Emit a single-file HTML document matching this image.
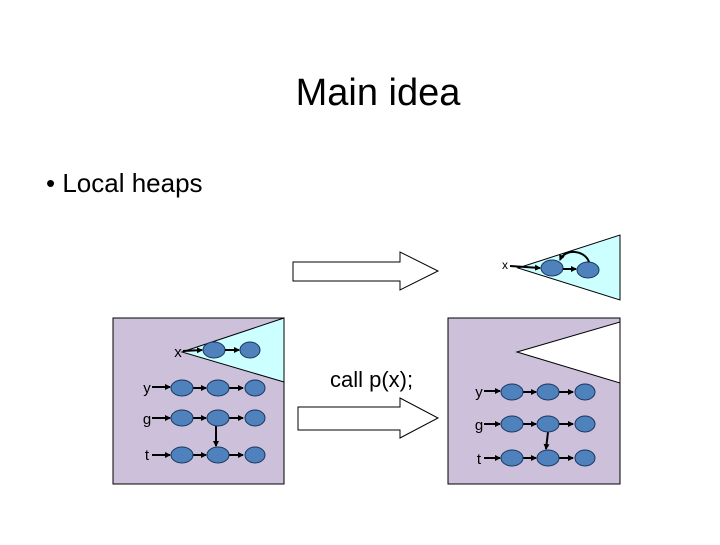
<!DOCTYPE html>
<html><head><style>
body{margin:0;width:720px;height:540px;background:#fff;overflow:hidden;font-family:"Liberation Sans",sans-serif;}
</style></head><body>
<svg width="720" height="540" xmlns="http://www.w3.org/2000/svg" font-family="Liberation Sans, sans-serif">
<defs>
<marker id="a" markerWidth="6" markerHeight="6" refX="5" refY="3" orient="auto" markerUnits="userSpaceOnUse"><path d="M0,0 L6,3 L0,6 z" fill="#000"/></marker>
</defs>
<text x="378" y="105" font-size="38" text-anchor="middle" fill="#000">Main idea</text>
<text x="46" y="192" font-size="26" fill="#000">• Local heaps</text>

<!-- top hollow arrow -->
<path d="M293,262 L400,262 L400,252 L438,271 L400,290 L400,281 L293,281 Z" fill="#fff" stroke="#000" stroke-width="1"/>
<!-- top right triangle -->
<path d="M518,268 L620,235 L620,300 Z" fill="#ccffff" stroke="#000" stroke-width="1"/>
<text x="505" y="269" font-size="12" text-anchor="middle">x</text>
<line x1="510" y1="266" x2="540" y2="268" stroke="#000" stroke-width="2" marker-end="url(#a)"/>
<ellipse cx="552" cy="268" rx="11" ry="8" fill="#4f81bd" stroke="#17375e"/>
<line x1="563" y1="269" x2="576" y2="269" stroke="#000" stroke-width="2" marker-end="url(#a)"/>
<ellipse cx="588" cy="270" rx="11" ry="8" fill="#4f81bd" stroke="#17375e"/>
<path d="M589,262 C585,250 565,248 560,260" fill="none" stroke="#000" stroke-width="2" marker-end="url(#a)"/>

<!-- left box -->
<rect x="113" y="318" width="171" height="166" fill="#ccc0da" stroke="#000"/>
<path d="M182,352 L284,318 L284,382 Z" fill="#ccffff" stroke="#000" stroke-width="1"/>
<g font-size="15">
<text x="178" y="357" text-anchor="middle">x</text>
<line x1="183" y1="351" x2="202" y2="350" stroke="#000" stroke-width="2" marker-end="url(#a)"/>
<ellipse cx="214" cy="350" rx="11" ry="8" fill="#4f81bd" stroke="#17375e"/>
<line x1="225" y1="350" x2="239" y2="350" stroke="#000" stroke-width="2" marker-end="url(#a)"/>
<ellipse cx="250" cy="350" rx="10" ry="8" fill="#4f81bd" stroke="#17375e"/>
</g>
<g id="rows" font-size="15">
<text x="147" y="393" text-anchor="middle">y</text>
<text x="147" y="424" text-anchor="middle">g</text>
<text x="147" y="460" text-anchor="middle">t</text>
</g>
<g stroke="#000" stroke-width="2">
<line x1="152" y1="387" x2="170" y2="387" marker-end="url(#a)"/>
<line x1="193" y1="388" x2="206" y2="388" marker-end="url(#a)"/>
<line x1="229" y1="388" x2="243" y2="388" marker-end="url(#a)"/>
<line x1="152" y1="418" x2="170" y2="418" marker-end="url(#a)"/>
<line x1="193" y1="418" x2="206" y2="418" marker-end="url(#a)"/>
<line x1="229" y1="418" x2="243" y2="418" marker-end="url(#a)"/>
<line x1="152" y1="455" x2="170" y2="455" marker-end="url(#a)"/>
<line x1="193" y1="455" x2="206" y2="455" marker-end="url(#a)"/>
<line x1="229" y1="455" x2="243" y2="455" marker-end="url(#a)"/>
<line x1="216" y1="425" x2="216" y2="446" marker-end="url(#a)"/>
</g>
<g fill="#4f81bd" stroke="#17375e">
<ellipse cx="182" cy="388" rx="11" ry="8"/><ellipse cx="218" cy="388" rx="11" ry="8"/><ellipse cx="255" cy="388" rx="10" ry="8"/>
<ellipse cx="182" cy="418" rx="11" ry="8"/><ellipse cx="218" cy="418" rx="11" ry="8"/><ellipse cx="255" cy="418" rx="10" ry="8"/>
<ellipse cx="182" cy="455" rx="11" ry="8"/><ellipse cx="218" cy="455" rx="11" ry="8"/><ellipse cx="255" cy="455" rx="10" ry="8"/>
</g>

<!-- middle -->
<text x="330" y="387" font-size="22">call p(x);</text>
<path d="M298,407 L400,407 L400,398 L438,418 L400,438 L400,430 L298,430 Z" fill="#fff" stroke="#000" stroke-width="1"/>

<!-- right box -->
<rect x="448" y="318" width="172" height="166" fill="#ccc0da" stroke="#000"/>
<path d="M517,352 L620,322 L620,383 Z" fill="#fff" stroke="#000" stroke-width="1"/>
<g font-size="15">
<text x="479" y="397" text-anchor="middle">y</text>
<text x="479" y="430" text-anchor="middle">g</text>
<text x="479" y="464" text-anchor="middle">t</text>
</g>
<g stroke="#000" stroke-width="2">
<line x1="484" y1="391" x2="500" y2="391" marker-end="url(#a)"/>
<line x1="523" y1="392" x2="536" y2="392" marker-end="url(#a)"/>
<line x1="559" y1="392" x2="573" y2="392" marker-end="url(#a)"/>
<line x1="484" y1="424" x2="500" y2="424" marker-end="url(#a)"/>
<line x1="523" y1="424" x2="536" y2="424" marker-end="url(#a)"/>
<line x1="559" y1="424" x2="573" y2="424" marker-end="url(#a)"/>
<line x1="484" y1="458" x2="500" y2="458" marker-end="url(#a)"/>
<line x1="523" y1="458" x2="536" y2="458" marker-end="url(#a)"/>
<line x1="559" y1="458" x2="573" y2="458" marker-end="url(#a)"/>
<line x1="548" y1="432" x2="546" y2="449" marker-end="url(#a)"/>
</g>
<g fill="#4f81bd" stroke="#17375e">
<ellipse cx="512" cy="392" rx="11" ry="8"/><ellipse cx="548" cy="392" rx="11" ry="8"/><ellipse cx="585" cy="392" rx="10" ry="8"/>
<ellipse cx="512" cy="424" rx="11" ry="8"/><ellipse cx="548" cy="424" rx="11" ry="8"/><ellipse cx="585" cy="424" rx="10" ry="8"/>
<ellipse cx="512" cy="458" rx="11" ry="8"/><ellipse cx="548" cy="458" rx="11" ry="8"/><ellipse cx="585" cy="458" rx="10" ry="8"/>
</g>
</svg>
</body></html>
